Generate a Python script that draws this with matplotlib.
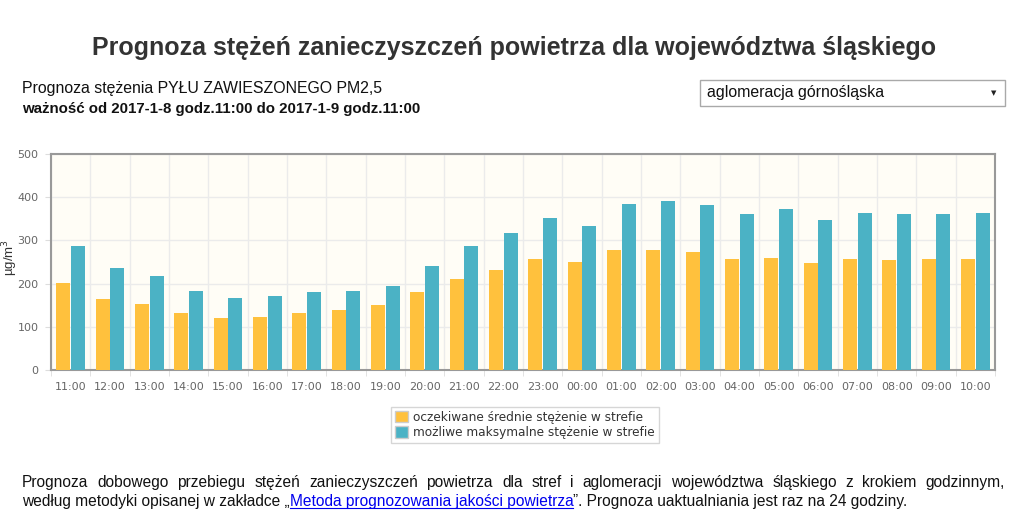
import numpy as np
import matplotlib
matplotlib.use("Agg")
import matplotlib.pyplot as plt
from matplotlib.patches import Rectangle, Patch

# Data
hours = ["11:00", "12:00", "13:00", "14:00", "15:00", "16:00", "17:00", "18:00",
         "19:00", "20:00", "21:00", "22:00", "23:00", "00:00", "01:00", "02:00",
         "03:00", "04:00", "05:00", "06:00", "07:00", "08:00", "09:00", "10:00"]
mean_conc = [202, 164, 153, 131, 120, 123, 131, 139, 151, 181, 210, 231,
             257, 251, 277, 277, 272, 258, 260, 248, 257, 255, 258, 258]
max_conc = [288, 235, 217, 184, 167, 171, 181, 184, 195, 240, 287, 317,
            352, 334, 384, 391, 382, 360, 372, 348, 364, 362, 360, 363]
y_ticks = [0, 100, 200, 300, 400, 500]

ORANGE = "#FFC13D"
BLUE = "#4BB2C5"
W, H = 1024, 531

fig = plt.figure(figsize=(W / 100, H / 100), dpi=100)
fig.patch.set_facecolor("white")

def px(x, y):
    """pixel coords (top-left origin) -> figure fraction"""
    return x / W, 1 - y / H

# Header texts
fig.text(*px(514, 48), "Prognoza stężeń zanieczyszczeń powietrza dla województwa śląskiego",
         ha="center", va="center", fontsize=18, fontweight="bold", color="#333333",
         family="Liberation Sans")
fig.text(*px(22, 88), "Prognoza stężenia PYŁU ZAWIESZONEGO PM2,5", ha="left", va="center",
         fontsize=11.4, color="#111111", family="Liberation Sans")
fig.text(*px(22, 109), "ważność od 2017-1-8 godz.11:00 do 2017-1-9 godz.11:00", ha="left",
         va="center", fontsize=10.8, color="#111111", family=["Liberation Sans Narrow", "Liberation Sans"],
         fontweight="bold", fontstretch="condensed")

# Dropdown box
fig.patches.append(Rectangle(px(700, 106), 305 / W, 26 / H, transform=fig.transFigure,
                             facecolor="white", edgecolor="#a9a9a9", lw=1))
fig.text(*px(707, 93), "aglomeracja górnośląska", ha="left", va="center", fontsize=11.4,
         color="#111111", family="Liberation Sans")
fig.text(*px(994, 93), "▼", ha="center", va="center", fontsize=5, color="#222222")

# Chart
ax = fig.add_axes([51 / W, 1 - 370 / H, (995 - 51) / W, (370 - 154) / H])
ax.set_facecolor("#FFFDF6")
x = np.arange(len(hours))
bw = 0.355
ax.bar(x - bw / 2 - 0.01, mean_conc, bw, color=ORANGE, zorder=3)
ax.bar(x + bw / 2 + 0.01, max_conc, bw, color=BLUE, zorder=3)
ax.set_xlim(-0.5, len(hours) - 0.5)
ax.set_ylim(0, 500)
ax.set_yticks(y_ticks)
ax.set_yticklabels([str(v) for v in y_ticks])
ax.set_xticks(x)
ax.set_xticklabels(hours)
ax.set_xticks(np.arange(len(hours) + 1) - 0.5, minor=True)
ax.tick_params(axis="x", which="major", length=0, pad=9, labelsize=8, colors="#666666")
ax.tick_params(axis="x", which="minor", length=4, color="#dddddd")
ax.tick_params(axis="y", length=4, color="#dddddd", pad=5, labelsize=8, labelcolor="#666666")
ax.grid(True, axis="y", color="#ebebeb", lw=1, zorder=0)
ax.grid(True, axis="x", which="minor", color="#ebebeb", lw=1, zorder=0)
for s in ax.spines.values():
    s.set_color("#999999")
    s.set_linewidth(1.5)
fig.text(*px(10, 258), "µg/m$^3$", rotation=90, ha="center", va="center", fontsize=9.5,
         color="#333333", family="Liberation Sans")

# Legend
handles = [Patch(facecolor=ORANGE, edgecolor="#cccccc", label="oczekiwane średnie stężenie w strefie"),
           Patch(facecolor=BLUE, edgecolor="#cccccc", label="możliwe maksymalne stężenie w strefie")]
leg = fig.legend(handles=handles, loc="center", bbox_to_anchor=px(525, 425), fontsize=8.7,
                 frameon=True, fancybox=False, edgecolor="#cccccc", handlelength=1.1,
                 handleheight=1.1, handletextpad=0.4, borderpad=0.35, labelspacing=0.2)
for t in leg.get_texts():
    t.set_color("#333333")

# Bottom paragraph (justified first line, link in second)
fig.canvas.draw()
renderer = fig.canvas.get_renderer()
line1 = ("Prognoza dobowego przebiegu stężeń zanieczyszczeń powietrza dla stref i aglomeracji "
         "województwa śląskiego z krokiem godzinnym,").split()
fs = 11.2
words = [fig.text(0, 0, w, fontsize=fs, family="Liberation Sans", color="#111111",
                  va="baseline") for w in line1]
widths = [w.get_window_extent(renderer).width for w in words]
gap = (1005 - 22 - sum(widths)) / (len(words) - 1)
xpos = 22
for t, wd in zip(words, widths):
    t.set_position(px(xpos, 487))
    xpos += wd + gap

pieces = [("według metodyki opisanej w zakładce „", "#111111", False),
          ("Metoda prognozowania jakości powietrza", "#0000EE", True),
          ("”. Prognoza uaktualniania jest raz na 24 godziny.", "#111111", False)]
xpos = 22
for txt, col, link in pieces:
    t = fig.text(*px(xpos, 506), txt, fontsize=fs, family="Liberation Sans", color=col, va="baseline")
    wd = t.get_window_extent(renderer).width
    if link:
        fig.lines.append(plt.Line2D([xpos / W, (xpos + wd) / W], [1 - 508 / H, 1 - 508 / H],
                                    transform=fig.transFigure, color=col, lw=0.8))
    xpos += wd

fig.savefig("out.png", dpi=100)
